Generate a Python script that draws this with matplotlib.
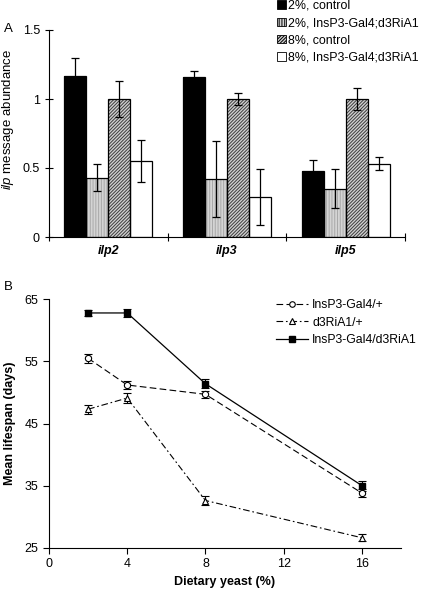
import matplotlib
matplotlib.use('Agg')
import matplotlib.pyplot as plt
from matplotlib.lines import Line2D
import numpy as np

plt.rcParams['font.family'] = 'Liberation Sans'
plt.rcParams['mathtext.fontset'] = 'custom'
plt.rcParams['mathtext.it'] = 'Liberation Sans:italic'
plt.rcParams['mathtext.rm'] = 'Liberation Sans'
plt.rcParams['hatch.linewidth'] = 0.7

# Panel A data
genes = ['ilp2', 'ilp3', 'ilp5']
bar_labels = ['2%, control', '2%, InsP3-Gal4;d3RiA1', '8%, control', '8%, InsP3-Gal4;d3RiA1']
ctrl2 = [1.17, 1.16, 0.48]
ctrl2_err = [0.13, 0.045, 0.08]
ri2 = [0.43, 0.42, 0.35]
ri2_err = [0.10, 0.275, 0.14]
ctrl8 = [1.0, 1.0, 1.0]
ctrl8_err = [0.13, 0.04, 0.08]
ri8 = [0.55, 0.29, 0.53]
ri8_err = [0.155, 0.20, 0.048]

# Panel B data
yeast = [2, 4, 8, 16]
gal4 = [55.5, 51.2, 49.7, 33.8]
gal4_err = [0.7, 0.7, 0.6, 0.6]
ri = [47.3, 49.1, 32.6, 26.6]
ri_err = [0.7, 0.8, 0.7, 0.6]
both = [62.8, 62.8, 51.4, 35.0]
both_err = [0.5, 0.6, 0.7, 0.8]

fig = plt.figure(figsize=(4.22, 5.89), dpi=100)

# ---- A ----
ax = fig.add_axes([49/422, 1-237/589, 356/422, 207/589])
x = np.arange(len(genes))
w = 0.185
styles = [
    dict(fc='black', hatch=None, hc='black'),
    dict(fc='#d4d4d4', hatch='||||||', hc='#a8a8a8'),
    dict(fc='#d0d0d0', hatch='//////////', hc='#3c3c3c'),
    dict(fc='white', hatch=None, hc='white'),
]
series = [(ctrl2, ctrl2_err), (ri2, ri2_err), (ctrl8, ctrl8_err), (ri8, ri8_err)]
handles = []
for i, ((vals, errs), st) in enumerate(zip(series, styles)):
    pos = x + (i - 1.5) * w
    ax.bar(pos, vals, w, color=st['fc'], hatch=st['hatch'], edgecolor=st['hc'], linewidth=0, zorder=2)
    ax.bar(pos, vals, w, facecolor='none', edgecolor='black', linewidth=0.9, zorder=3)
    ax.errorbar(pos, vals, yerr=errs, fmt='none', ecolor='black', elinewidth=0.9, capsize=3, capthick=0.9, zorder=4)
    handles.append(plt.Rectangle((0, 0), 1, 1, facecolor=st['fc'], hatch=st['hatch'], edgecolor='black', linewidth=0.6))

ax.set_xlim(-0.5, 2.5)
ax.set_ylim(0, 1.5)
ax.set_yticks([0, 0.5, 1, 1.5])
ax.set_yticklabels(['0', '0.5', '1', '1.5'])
ax.set_xticks([-0.5, 0.5, 1.5, 2.5])
ax.set_xticklabels([])
ax.set_xticks(x, minor=True)
ax.set_xticklabels(genes, minor=True, fontstyle='italic', fontweight='bold', fontsize=9)
ax.tick_params(axis='x', which='minor', length=0, pad=6)
ax.tick_params(axis='both', which='major', direction='inout', length=6, width=0.8, labelsize=9)
for s in ['top', 'right']:
    ax.spines[s].set_visible(False)
ax.spines['left'].set_linewidth(0.8)
ax.spines['bottom'].set_linewidth(0.8)
ax.set_ylabel(r'$\it{ilp}$ message abundance', fontsize=9.5)
ax.yaxis.set_label_coords(-0.092, 0.57)

fig.legend(handles, bar_labels, loc='upper left', bbox_to_anchor=(277/422, 1.0), frameon=False,
           fontsize=8.9, handlelength=0.7, handleheight=0.7, handletextpad=0.2, labelspacing=0.42,
           borderpad=0, borderaxespad=0)
fig.text(4/422, 1-29/589, 'A', fontsize=9.5, va='center', ha='left')

# ---- B ----
bx = fig.add_axes([49/422, 1-547.7/589, 352/422, 248.4/589])
dash = (0, (6, 3))
dashdot = (0, (6, 2.5, 1.5, 2.5))
bx.errorbar(yeast, gal4, yerr=gal4_err, color='black', linestyle=dash, linewidth=0.8,
            marker='o', markersize=4.5, markerfacecolor='white', markeredgecolor='black', markeredgewidth=0.8,
            capsize=3, elinewidth=0.8, capthick=0.8)
bx.errorbar(yeast, ri, yerr=ri_err, color='black', linestyle=dashdot, linewidth=0.8,
            marker='^', markersize=4.5, markerfacecolor='white', markeredgecolor='black', markeredgewidth=0.8,
            capsize=3, elinewidth=0.8, capthick=0.8)
bx.errorbar(yeast, both, yerr=both_err, color='black', linestyle='-', linewidth=0.9,
            marker='s', markersize=5, markerfacecolor='black', markeredgecolor='black',
            capsize=3, elinewidth=0.8, capthick=0.8)
bx.set_xlim(0, 18)
bx.set_ylim(25, 65)
bx.set_xticks([0, 4, 8, 12, 16])
bx.set_yticks([25, 35, 45, 55, 65])
bx.tick_params(axis='both', direction='out', length=4, width=0.8, labelsize=9)
for s in ['top', 'right']:
    bx.spines[s].set_visible(False)
bx.spines['left'].set_linewidth(0.8)
bx.spines['bottom'].set_linewidth(0.8)
bx.set_xlabel('Dietary yeast (%)', fontsize=9, fontweight='bold', labelpad=4)
bx.set_ylabel('Mean lifespan (days)', fontsize=9, fontweight='bold', labelpad=6)
bh = [
    Line2D([], [], color='black', linestyle=dash, linewidth=0.8, marker='o', markersize=4,
           markerfacecolor='white', markeredgewidth=0.8),
    Line2D([], [], color='black', linestyle=dashdot, linewidth=0.8, marker='^', markersize=4,
           markerfacecolor='white', markeredgewidth=0.8),
    Line2D([], [], color='black', linestyle='-', linewidth=0.9, marker='s', markersize=5,
           markerfacecolor='black'),
]
bl = ['InsP3-Gal4/+', 'd3RiA1/+', 'InsP3-Gal4/d3RiA1']
fig.legend(bh, bl, loc='upper left', bbox_to_anchor=(276/422, 1-299/589), frameon=False,
           fontsize=8.8, handlelength=2.6, handletextpad=0.35, labelspacing=0.45,
           borderpad=0, borderaxespad=0)
fig.text(4/422, 1-287/589, 'B', fontsize=9.5, va='center', ha='left')

fig.savefig('out.png', dpi=100)
